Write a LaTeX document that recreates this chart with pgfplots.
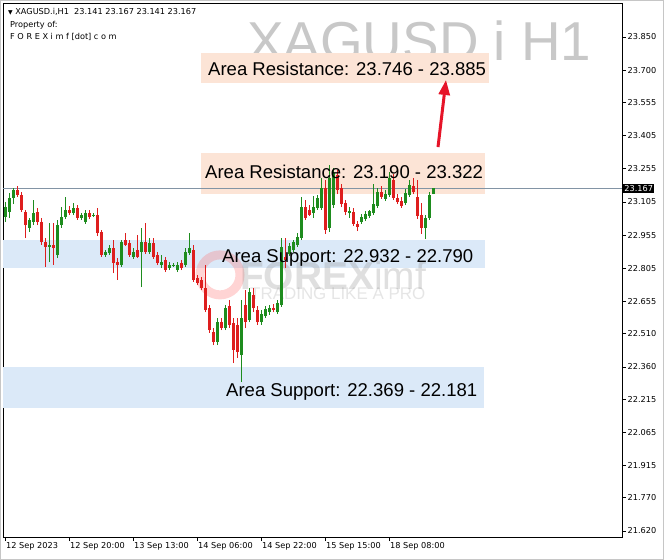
\documentclass[border=0pt]{standalone}
\usepackage{fontspec}
\setmainfont{Liberation Sans}
\newfontfamily\uif{DejaVu Sans}
\usepackage{pgfplots}
\usepackage{pgfplotstable}
\pgfplotsset{compat=1.18}
\usetikzlibrary{arrows.meta}

\definecolor{cUp}{RGB}{30,140,30}
\definecolor{cDn}{RGB}{222,30,30}
\definecolor{cRes}{RGB}{252,228,214}
\definecolor{cSup}{RGB}{219,233,248}
\definecolor{cBid}{RGB}{130,148,165}
\definecolor{cWm}{RGB}{200,200,200}
\definecolor{cArr}{RGB}{230,20,40}

\newcommand\uisz{\uif\fontsize{8.2}{10}\selectfont}

% H1 candles, x = bar index, o h l c
\pgfplotstableread{
x o h l c
0 23.037 23.105 23.015 23.082
1 23.060 23.146 23.033 23.123
2 23.123 23.168 23.096 23.159
6 22.988 23.033 22.970 23.024
7 23.015 23.114 23.001 23.055
11 22.902 23.010 22.834 22.911
13 22.866 23.024 22.852 23.001
14 23.001 23.082 22.988 23.037
15 23.037 23.128 23.028 23.069
17 23.055 23.100 23.046 23.078
19 23.033 23.055 23.024 23.046
20 23.015 23.069 23.006 23.055
22 23.042 23.055 23.037 23.046
25 22.866 22.888 22.857 22.879
26 22.875 22.911 22.866 22.897
29 22.821 22.933 22.812 22.924
32 22.857 22.897 22.848 22.879
34 22.879 22.988 22.721 22.924
36 22.879 22.942 22.870 22.920
39 22.821 22.866 22.807 22.834
41 22.807 22.834 22.798 22.821
42 22.816 22.830 22.812 22.821
43 22.798 22.834 22.789 22.821
45 22.821 22.897 22.812 22.879
46 22.875 22.965 22.866 22.897
53 22.473 22.581 22.459 22.563
55 22.536 22.640 22.527 22.626
59 22.414 22.663 22.292 22.581
61 22.572 22.717 22.563 22.699
64 22.563 22.617 22.550 22.599
65 22.590 22.635 22.581 22.622
66 22.608 22.640 22.595 22.626
68 22.608 22.663 22.599 22.649
69 22.640 22.942 22.631 22.902
71 22.870 22.920 22.861 22.906
72 22.888 22.933 22.879 22.924
73 22.911 22.965 22.902 22.947
74 22.942 23.128 22.933 23.082
77 23.055 23.132 23.033 23.082
78 23.078 23.137 23.069 23.123
79 23.078 23.213 23.069 23.168
81 22.988 23.272 22.970 23.213
82 23.091 23.258 23.078 23.236
86 23.055 23.082 23.033 23.064
89 23.015 23.051 23.006 23.037
90 23.028 23.064 23.019 23.051
91 23.042 23.069 23.033 23.064
92 23.055 23.186 23.046 23.096
93 23.087 23.168 23.078 23.150
95 23.119 23.159 23.109 23.141
96 23.137 23.240 23.128 23.213
100 23.100 23.164 23.091 23.146
101 23.137 23.204 23.128 23.182
105 22.988 23.046 22.938 23.033
106 23.033 23.150 23.024 23.137
107 23.141 23.167 23.141 23.167
}\upbars

\pgfplotstableread{
x o h l c
3 23.159 23.177 23.128 23.137
4 23.137 23.150 23.060 23.069
5 23.060 23.069 22.942 23.001
8 23.060 23.078 23.001 23.015
9 23.015 23.033 22.911 22.924
10 22.924 22.942 22.812 22.902
12 22.911 23.010 22.821 22.897
16 23.069 23.087 23.046 23.055
18 23.078 23.091 23.024 23.033
21 23.055 23.069 23.028 23.037
23 23.046 23.078 22.951 22.965
24 22.970 22.979 22.857 22.866
27 22.897 22.933 22.784 22.830
28 22.834 22.852 22.753 22.821
30 22.933 22.965 22.906 22.911
31 22.920 22.933 22.857 22.866
33 22.888 22.956 22.852 22.857
35 22.924 23.010 22.870 22.879
37 22.920 22.942 22.848 22.857
38 22.866 22.879 22.821 22.830
40 22.843 22.857 22.789 22.798
44 22.830 22.843 22.798 22.807
47 22.888 22.911 22.744 22.753
48 22.762 22.775 22.730 22.739
49 22.753 22.766 22.708 22.717
50 22.717 22.821 22.608 22.617
51 22.626 22.640 22.514 22.527
52 22.518 22.536 22.459 22.473
54 22.563 22.581 22.527 22.536
56 22.635 22.663 22.536 22.550
57 22.559 22.581 22.378 22.437
58 22.550 22.581 22.401 22.428
60 22.640 22.708 22.536 22.563
62 22.685 22.717 22.608 22.626
63 22.617 22.635 22.550 22.563
67 22.626 22.644 22.608 22.617
70 22.857 22.942 22.807 22.843
75 23.082 23.114 23.024 23.033
76 23.069 23.091 23.042 23.046
80 23.168 23.204 22.961 22.979
83 23.227 23.249 23.141 23.159
84 23.168 23.186 23.082 23.096
85 23.100 23.114 23.046 23.060
87 23.060 23.078 22.997 23.006
88 23.006 23.019 22.974 22.992
94 23.150 23.177 23.119 23.128
97 23.204 23.231 23.114 23.123
98 23.123 23.141 23.096 23.105
99 23.109 23.128 23.078 23.087
102 23.177 23.213 23.141 23.150
103 23.128 23.204 23.028 23.042
104 23.046 23.100 22.961 22.988
}\dnbars

\begin{document}
\begin{tikzpicture}
\path[use as bounding box, fill=white] (0,0) rectangle (664bp,560bp);
\draw[gray!45, line width=1bp] (0.5bp,0.5bp) rectangle (663.5bp,559.5bp);
\begin{axis}[
  at={(3bp,23bp)}, anchor=south west,
  scale only axis, width=619bp, height=534bp,
  xmin=-0.5, xmax=154.25, ymin=21.5925, ymax=24.0036,
  clip=false,
  axis line style={line width=0.8bp, black},
  tick align=outside, major tick length=4bp,
  tick style={black, line width=0.6bp},
  xtick pos=left, ytick pos=right, yticklabel pos=right,
  xtick={0,16,32,48,64,80,96},
  xticklabels={12 Sep 2023,12 Sep 20:00,13 Sep 13:00,14 Sep 06:00,14 Sep 22:00,15 Sep 15:00,18 Sep 08:00},
  xticklabel style={font=\uisz, anchor=north west, inner sep=1bp},
  ytick={23.850,23.700,23.555,23.405,23.255,23.105,22.955,22.805,22.655,22.510,22.360,22.215,22.065,21.915,21.770,21.620},
  yticklabels={23.850,23.700,23.555,23.405,23.255,23.105,22.955,22.805,22.655,22.510,22.360,22.215,22.065,21.915,21.770,21.620},
  yticklabel style={font=\uisz, anchor=west, inner sep=1.5bp},
]
% chart watermark
\node[anchor=base west, inner sep=0, text=cWm, font=\fontsize{55}{60}\selectfont] at (axis cs:60.5,23.746) {XAGUSD.i H1};

% zones
\fill[cRes] (axis cs:49,23.642) rectangle (axis cs:121,23.778);
\fill[cRes] (axis cs:49,23.141) rectangle (axis cs:120,23.326);
\fill[cSup] (axis cs:-0.5,22.807) rectangle (axis cs:120,22.933);
\fill[cSup] (axis cs:-0.5,22.175) rectangle (axis cs:119.75,22.360);

% logo watermark
\draw[red!40!pink, opacity=0.3, line width=9bp] (axis cs:53.75,22.776) circle[radius=20bp];
\node[anchor=base west, inner sep=0, text=gray, opacity=0.25, font=\fontsize{39}{40}\selectfont\bfseries] at (axis cs:58.75,22.708) {FOREX\textmd{imf}};
\node[anchor=base west, inner sep=0, text=gray, opacity=0.2, font=\fontsize{17}{18}\selectfont] at (axis cs:61.25,22.663) {TRADING LIKE A PRO};

% bid line
\addplot[cBid, line width=0.8bp, forget plot] coordinates {(-0.5,23.167) (154.25,23.167)};

% wicks
\addplot[draw=none, mark=none, forget plot, error bars/.cd, y dir=plus, y explicit, error mark=none,
  error bar style={draw=cUp, line width=1bp}]
  table[x=x, y=l, y error plus expr=\thisrow{h}-\thisrow{l}] {\upbars};
\addplot[draw=none, mark=none, forget plot, error bars/.cd, y dir=plus, y explicit, error mark=none,
  error bar style={draw=cDn, line width=1bp}]
  table[x=x, y=l, y error plus expr=\thisrow{h}-\thisrow{l}] {\dnbars};
% bodies
\addplot[draw=none, mark=none, forget plot, error bars/.cd, y dir=plus, y explicit, error mark=none,
  error bar style={draw=cUp, line width=3bp}]
  table[x=x, y=o, y error plus expr=\thisrow{c}-\thisrow{o}] {\upbars};
\addplot[draw=none, mark=none, forget plot, error bars/.cd, y dir=plus, y explicit, error mark=none,
  error bar style={draw=cDn, line width=3bp}]
  table[x=x, y=c, y error plus expr=\thisrow{o}-\thisrow{c}] {\dnbars};

% zone labels
\node[anchor=base west, inner sep=0, font=\fontsize{18.6}{20}\selectfont] at (axis cs:50.75,23.674) {Area Resistance: 23.746 - 23.885};
\node[anchor=base west, inner sep=0, font=\fontsize{18.6}{20}\selectfont] at (axis cs:50,23.213) {Area Resistance: 23.190 - 23.322};
\node[anchor=base west, inner sep=0, font=\fontsize{18.6}{20}\selectfont] at (axis cs:54.25,22.834) {Area Support: 22.932 - 22.790};
\node[anchor=base west, inner sep=0, font=\fontsize{18.6}{20}\selectfont] at (axis cs:55.25,22.229) {Area Support: 22.369 - 22.181};

% arrow
\draw[cArr, line width=3bp, -{Triangle[length=15bp,width=11bp]}] (axis cs:108.25,23.353) -- (axis cs:110.25,23.656);

% price label
\node[anchor=west, fill=black, text=white, font=\uisz, inner sep=1.2bp, xshift=1bp] at (axis cs:154.25,23.167) {23.167};
\end{axis}
\node[anchor=west, inner sep=0, font=\uisz] at (8bp,548bp) {{\fontsize{6}{6}\selectfont ▼} XAGUSD.i,H1\ \ 23.141 23.167 23.141 23.167};
\node[anchor=west, inner sep=0, font=\uisz] at (10bp,535bp) {Property of:};
\node[anchor=west, inner sep=0, font=\uisz] at (10bp,523bp) {F O R E X i m f [dot] c o m};
\end{tikzpicture}
\end{document}
